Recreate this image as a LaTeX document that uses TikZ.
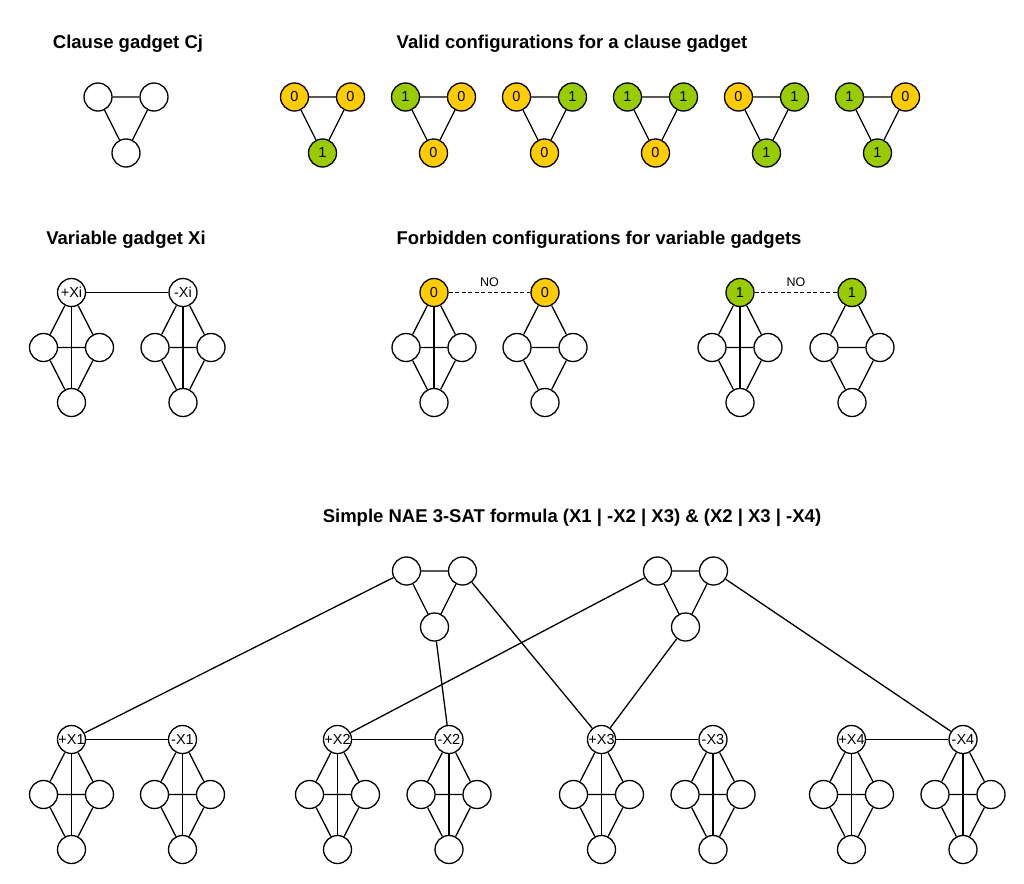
\documentclass[tikz,border=0pt]{standalone}
\usepackage{fontspec}
\setmainfont{Liberation Sans}
\definecolor{yel}{HTML}{FFCC00}
\definecolor{grn}{HTML}{99CC00}
\tikzset{
  v/.style={circle,draw,line width=1.3pt,minimum size=28pt,inner sep=0pt,fill=white,font=\fontsize{14.5}{16}\selectfont},
  zero/.style={fill=yel},
  one/.style={fill=grn},
  e/.style={line width=1.3pt},
  dsh/.style={line width=1.3pt,dash pattern=on 4pt off 2.5pt},
  ttl/.style={font=\bfseries\fontsize{18.5}{22}\selectfont},
  lbl/.style={font=\fontsize{12.5}{14}\selectfont}
}
\newcommand\vgad[5]{%
  \node[v,#5] (#1t) at (#2,#3) {#4};
  \node[v] (#1l) at ({#2-28},{#3+55}) {};
  \node[v] (#1r) at ({#2+28},{#3+55}) {};
  \node[v] (#1b) at (#2,{#3+110}) {};
  \draw[e] (#1t)--(#1l) (#1t)--(#1r) (#1l)--(#1r) (#1l)--(#1b) (#1r)--(#1b);
}
\newcommand\cgad[9]{%
  \node[v,#4] (#1l) at (#2,#3) {#5};
  \node[v,#6] (#1r) at ({#2+56},#3) {#7};
  \node[v,#8] (#1b) at ({#2+28},{#3+56}) {#9};
  \draw[e] (#1l)--(#1r) (#1l)--(#1b) (#1r)--(#1b);
}
\begin{document}
\begin{tikzpicture}[x=1pt,y=-1pt]
\useasboundingbox (0,0) rectangle (1024,883);
% titles
\node[ttl] (t1) at (128,44) {Clause gadget Cj};
\node[ttl] (t2) at (572,44) {Valid configurations for a clause gadget};
\node[ttl] (t3) at (126,240) {Variable gadget Xi};
\node[ttl] (t4) at (599,240) {Forbidden configurations for variable gadgets};
\node[ttl] (t5) at (572,518) {Simple NAE 3-SAT formula (X1 | -X2 | X3) \& (X2 | X3 | -X4)};
% clause gadget
\cgad{cj}{98}{97}{}{}{}{}{}{}
% valid configs
\cgad{va}{294.5}{97}{zero}{0}{zero}{0}{one}{1}
\cgad{vb}{405.5}{97}{one}{1}{zero}{0}{zero}{0}
\cgad{vc}{516.5}{97}{zero}{0}{one}{1}{zero}{0}
\cgad{vd}{627.5}{97}{one}{1}{one}{1}{zero}{0}
\cgad{ve}{738.5}{97}{zero}{0}{one}{1}{one}{1}
\cgad{vf}{849.5}{97}{one}{1}{zero}{0}{one}{1}
% variable gadget
\vgad{xp}{71.5}{292.5}{+Xi}{}
\draw[e] (xpt)--(xpb);
\vgad{xn}{183}{292.5}{-Xi}{}
\draw[e] (xnt)--(xnb);
\draw[e] (xpt)--(xnt);
% forbidden configs
\vgad{fa}{434}{292.5}{0}{zero}
\draw[e] (fat)--(fab);
\vgad{fb}{545}{292.5}{0}{zero}
\draw[dsh] (fat)--node[lbl,above=1.5pt]{NO}(fbt);
\vgad{fc}{740}{292.5}{1}{one}
\draw[e] (fct)--(fcb);
\vgad{fd}{852}{292.5}{1}{one}
\draw[dsh] (fct)--node[lbl,above=1.5pt]{NO}(fdt);
% bottom formula
\cgad{ca}{406.5}{571}{}{}{}{}{}{}
\cgad{cb}{657.5}{571}{}{}{}{}{}{}
\vgad{p1}{71.5}{739.5}{+X1}{}
\vgad{n1}{182.5}{739.5}{-X1}{}
\vgad{p2}{337.5}{739.5}{+X2}{}
\vgad{n2}{449}{739.5}{-X2}{}
\vgad{p3}{601.5}{739.5}{+X3}{}
\vgad{n3}{713}{739.5}{-X3}{}
\vgad{p4}{851.5}{739.5}{+X4}{}
\vgad{n4}{963}{739.5}{-X4}{}
\foreach \g in {p1,n1,p2,n2,p3,n3,p4,n4}{\draw[e] (\g t)--(\g b);}
\draw[e] (p1t)--(n1t) (p2t)--(n2t) (p3t)--(n3t) (p4t)--(n4t);
\draw[e] (cal)--(p1t) (cab)--(n2t) (car)--(p3t);
\draw[e] (cbl)--(p2t) (cbb)--(p3t) (cbr)--(n4t);
\end{tikzpicture}
\end{document}
